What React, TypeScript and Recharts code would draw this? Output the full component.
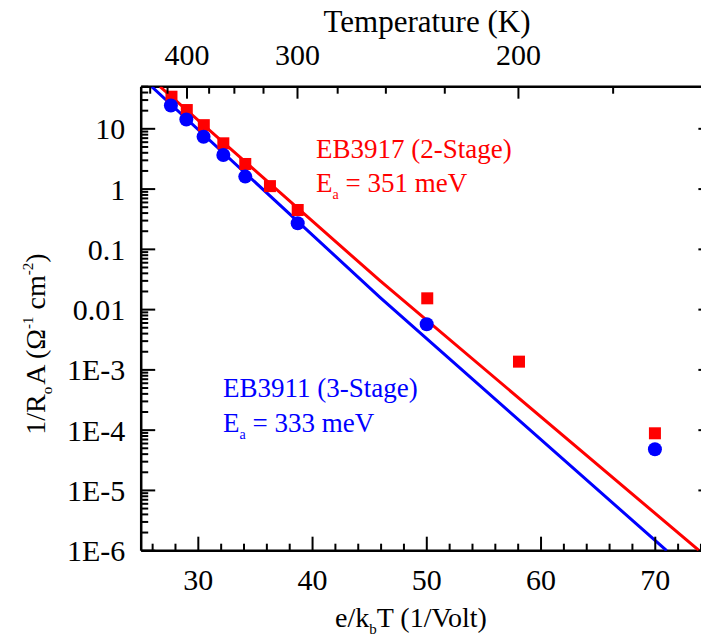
import { ComposedChart, Scatter, XAxis, YAxis } from 'recharts';

const FONT = "'Liberation Serif', 'DejaVu Serif', 'Times New Roman', serif";
const RED = '#ff0000';
const BLUE = '#0000ff';

// e/kT (1/V) = 11604.5 / T(K)
const E_OVER_K = 11604.5;

// EB3917 (2-stage) measured points
const redX = [27.65, 28.99, 30.48, 32.19, 34.11, 36.27, 38.7, 50.04, 58.07, 69.97];
const redY = [34.1, 20.5, 11.5, 5.75, 2.61, 1.12, 0.45, 0.0154, 0.00137, 8.87e-5];

// EB3911 (3-stage) measured points
const blueX = [27.6, 28.95, 30.46, 32.19, 34.11, 38.7, 49.99, 69.97];
const blueY = [24.4, 14.3, 7.4, 3.68, 1.61, 0.271, 0.00571, 4.82e-5];

// Arrhenius fit lines
const redFitX = [26.65, 45.9, 73.85];
const redFitY = [50, 0.0302, 1e-6];
const blueFitX = [25.92, 45.9, 71.0];
const blueFitY = [50, 0.016, 1e-6];

const xMajorTicks = [30, 40, 50, 60, 70];
const xMinorTicks = [26, 28, 32, 34, 36, 38, 42, 44, 46, 48, 52, 54, 56, 58, 62, 64, 66, 68, 72, 74];
const tempMajorTicks = [400, 300, 200];
const tempMinorTicks = [450, 425, 375, 350, 325, 275, 250, 225, 175];
const yDecades = [1e-6, 1e-5, 1e-4, 1e-3, 0.01, 0.1, 1, 10];
const yTickLabels = ['1E-6', '1E-5', '1E-4', '1E-3', '0.01', '0.1', '1', '10'];

const toPoints = (xs: number[], ys: number[]) => xs.map((x, i) => ({ x, y: ys[i] }));
const redData = toPoints(redX, redY);
const blueData = toPoints(blueX, blueY);
const redFit = toPoints(redFitX, redFitY);
const blueFit = toPoints(blueFitX, blueFitY);

const xTicks = [...xMajorTicks, ...xMinorTicks].sort((a, b) => a - b);
const tempTicks = [...tempMajorTicks, ...tempMinorTicks].map((t) => E_OVER_K / t);
const yTicks: number[] = [];
yDecades.forEach((d) => {
  yTicks.push(d);
  for (let m = 2; m <= 9; m++) if (m * d <= 50) yTicks.push(m * d);
});

const W = 714.4;
const H = 602.7;
const TICK_FONT = 30;
const textStyle = { fontFamily: FONT };

const BottomTick = (props: any) => {
  const { x, y, payload } = props;
  const major = xMajorTicks.includes(payload.value);
  return (
    <g>
      <line x1={x} y1={y} x2={x} y2={y - (major ? 14 : 7)} stroke="#000" strokeWidth={2} />
      {major && (
        <text x={x} y={y + 39} textAnchor="middle" fontSize={TICK_FONT} style={textStyle} fill="#000">
          {payload.value}
        </text>
      )}
    </g>
  );
};

const TopTick = (props: any) => {
  const { x, y, payload } = props;
  const t = tempMajorTicks.find((k) => Math.abs(E_OVER_K / k - payload.value) < 1e-6);
  return (
    <g>
      <line x1={x} y1={y} x2={x} y2={y + (t ? 12 : 7)} stroke="#000" strokeWidth={2} />
      {t && (
        <text x={x} y={y - 21.7} textAnchor="middle" fontSize={TICK_FONT} style={textStyle} fill="#000">
          {t}
        </text>
      )}
    </g>
  );
};

const LeftTick = (props: any) => {
  const { x, y, payload } = props;
  const i = yDecades.indexOf(payload.value);
  return (
    <g>
      <line x1={x} y1={y} x2={x + (i >= 0 ? 14 : 7)} y2={y} stroke="#000" strokeWidth={2} />
      {i >= 0 && (
        <text x={x - 16} y={y} dy="0.35em" textAnchor="end" fontSize={TICK_FONT} style={textStyle} fill="#000">
          {yTickLabels[i]}
        </text>
      )}
    </g>
  );
};

const RightTick = (props: any) => {
  const { x, y, payload } = props;
  const major = yDecades.includes(payload.value);
  return <line x1={x} y1={y} x2={x - (major ? 14 : 7)} y2={y} stroke="#000" strokeWidth={2} />;
};

const Square = (p: any) => <rect x={p.cx - 6} y={p.cy - 6} width={12} height={12} fill={RED} />;
const Dot = (p: any) => <circle cx={p.cx} cy={p.cy} r={7} fill={BLUE} />;
const NoMark = () => <g />;

const axisLine = { stroke: '#000', strokeWidth: 2.5 };

export default function App() {
  return (
    <div style={{ position: 'relative', width: 709, height: 643, margin: -8, overflow: 'hidden', background: '#fff' }}>
      <div style={{ position: 'absolute', left: 8, top: 8 }}>
        <ComposedChart width={W} height={H} margin={{ top: 28.7, left: 8.2, right: 0, bottom: 0 }}>
          <XAxis
            xAxisId="bottom"
            dataKey="x"
            type="number"
            domain={[25, 75]}
            allowDataOverflow
            ticks={xTicks}
            interval={0}
            height={60}
            tickSize={0}
            tickMargin={0}
            axisLine={axisLine}
            tick={<BottomTick />}
          />
          <XAxis
            xAxisId="top"
            orientation="top"
            dataKey="x"
            type="number"
            domain={[25, 75]}
            allowDataOverflow
            ticks={tempTicks}
            interval={0}
            height={50}
            tickSize={0}
            tickMargin={0}
            axisLine={axisLine}
            tick={<TopTick />}
          />
          <YAxis
            yAxisId="left"
            dataKey="y"
            type="number"
            scale="log"
            domain={[1e-6, 50]}
            allowDataOverflow
            ticks={yTicks}
            interval={0}
            width={125}
            tickSize={0}
            tickMargin={0}
            axisLine={axisLine}
            tick={<LeftTick />}
          />
          <YAxis
            yAxisId="right"
            orientation="right"
            dataKey="y"
            type="number"
            scale="log"
            domain={[1e-6, 50]}
            allowDataOverflow
            ticks={yTicks}
            interval={0}
            width={10}
            tickSize={0}
            tickMargin={0}
            axisLine={axisLine}
            tick={<RightTick />}
          />
          <Scatter xAxisId="bottom" yAxisId="left" data={blueFit} line={{ stroke: BLUE, strokeWidth: 3 }} shape={NoMark} isAnimationActive={false} />
          <Scatter xAxisId="bottom" yAxisId="left" data={redFit} line={{ stroke: RED, strokeWidth: 3 }} shape={NoMark} isAnimationActive={false} />
          <Scatter xAxisId="top" yAxisId="right" data={redData} shape={Square} isAnimationActive={false} />
          <Scatter xAxisId="bottom" yAxisId="left" data={blueData} shape={Dot} isAnimationActive={false} />
        </ComposedChart>
      </div>
      <svg
        width={709}
        height={643}
        style={{ position: 'absolute', left: 0, top: 0, pointerEvents: 'none', fontFamily: FONT }}
      >
        <text x={427} y={32} textAnchor="middle" fontSize={31} fill="#000">
          Temperature (K)
        </text>
        <text x={411} y={627} textAnchor="middle" fontSize={28} fill="#000">
          e/k<tspan fontSize={15} dy={7}>b</tspan>
          <tspan dy={-7}>T (1/Volt)</tspan>
        </text>
        <text transform="translate(45,344) rotate(-90)" textAnchor="middle" fontSize={28} fill="#000">
          1/R<tspan fontSize={15} dy={7}>o</tspan>
          <tspan dy={-7} dx={2}>A (Ω</tspan>
          <tspan fontSize={15} dy={-12}>-1</tspan>
          <tspan dy={12}> cm</tspan>
          <tspan fontSize={15} dy={-12}>-2</tspan>
          <tspan dy={12}>)</tspan>
        </text>
        <text x={316} y={158.3} fontSize={27} fill={RED}>
          EB3917 (2-Stage)
        </text>
        <text x={316} y={191.7} fontSize={27} fill={RED}>
          E<tspan fontSize={14} dy={7}>a</tspan>
          <tspan dy={-7}> = 351 meV</tspan>
        </text>
        <text x={223} y={396.7} fontSize={27} fill={BLUE}>
          EB3911 (3-Stage)
        </text>
        <text x={223} y={432.3} fontSize={27} fill={BLUE}>
          E<tspan fontSize={14} dy={7}>a</tspan>
          <tspan dy={-7}> = 333 meV</tspan>
        </text>
      </svg>
    </div>
  );
}
